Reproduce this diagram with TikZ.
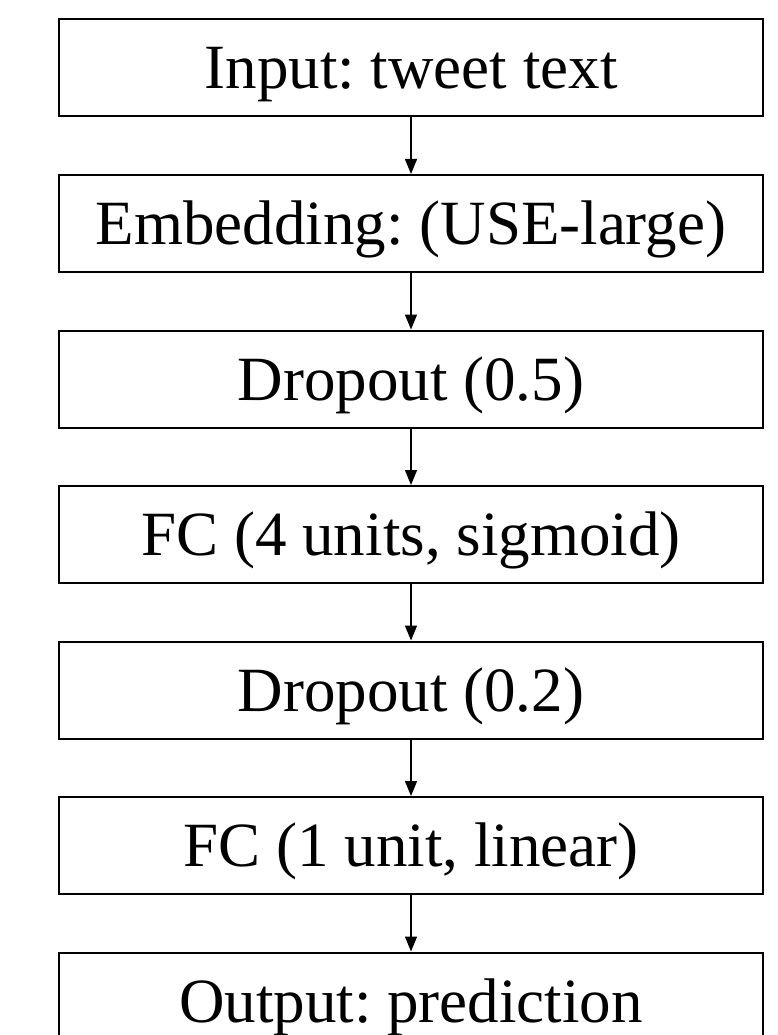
\documentclass[tikz,border=0pt]{standalone}
\usepackage{fontspec}
\setmainfont{Liberation Serif}
\usetikzlibrary{positioning,arrows.meta}
\frenchspacing

\begin{document}
\begin{tikzpicture}[x=1pt,y=1pt,node distance=56.5pt]

\tikzstyle{layer} = [rectangle, minimum height=97pt, minimum width=704pt, inner sep=0pt, text centered, draw=black, line width=2pt, font=\fontsize{63}{70}\selectfont, text height=42pt, text depth=0pt]
\tikzstyle{flow} = [-{Triangle[width=12pt,length=15pt]}, line width=1.4pt]
\useasboundingbox (0,0) rectangle (777,-1035);
\node (in) [layer] at (411,-68) {Input: tweet text};
\node (emb) [layer, below=of in] {Embedding: (USE-large)};
\node (dropa) [layer, below=of emb] {Dropout (0.5)};
\node (fca) [layer, below=of dropa] {FC (4 units, sigmoid)};
\node (dropb) [layer, below=of fca] {Dropout (0.2)};
\node (fcb) [layer, below=of dropb] {FC (1 unit, linear)};
\node (out) [layer, below=of fcb] {Output: prediction};
\draw [flow] (in) -- (emb);
\draw [flow] (emb) -- (dropa);
\draw [flow] (dropa) -- (fca);
\draw [flow] (fca) -- (dropb);
\draw [flow] (dropb) -- (fcb);
\draw [flow] (fcb) -- (out);
\end{tikzpicture}
\end{document}
